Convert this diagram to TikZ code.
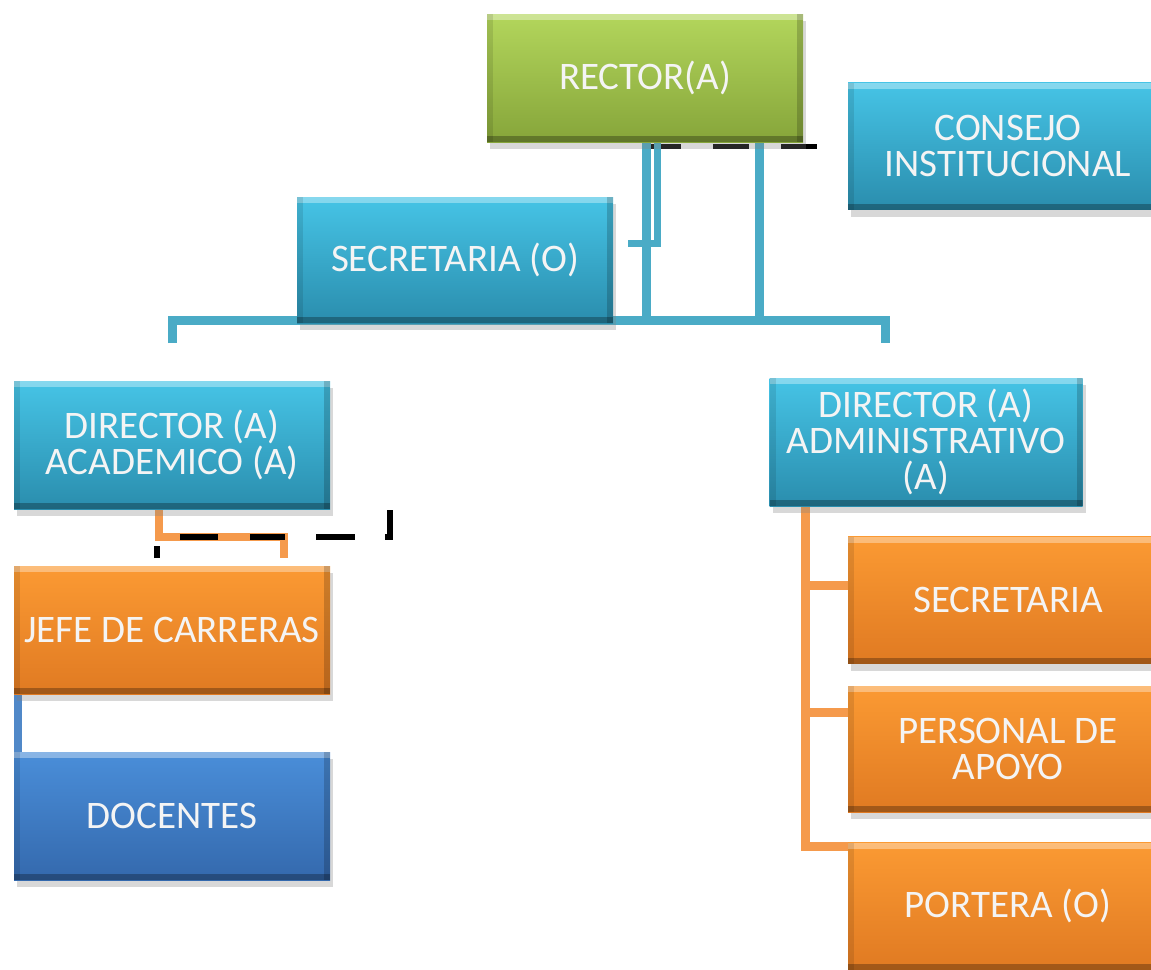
\documentclass[tikz,border=0pt]{standalone}
\usepackage{fontspec}
\setmainfont{Carlito}
\usetikzlibrary{shadows,backgrounds}
\definecolor{cyT}{HTML}{46C4E6}
\definecolor{cyB}{HTML}{2A8DAD}
\definecolor{grT}{HTML}{B3D65C}
\definecolor{grB}{HTML}{86A53A}
\definecolor{orT}{HTML}{FB9A33}
\definecolor{orB}{HTML}{E07A22}
\definecolor{buT}{HTML}{4A8ED9}
\definecolor{buB}{HTML}{3469AD}
\definecolor{lnBlue}{HTML}{4AABC6}
\definecolor{lnOrange}{HTML}{F59A4C}
\definecolor{lnDoc}{HTML}{5088C8}
\definecolor{txt}{HTML}{F4F4F4}
\tikzset{
  orgbox/.style={minimum width=316pt, minimum height=128pt, inner sep=0pt,
    text=txt, font=\fontsize{39}{36}\selectfont, align=center,
    drop shadow={shadow xshift=3pt, shadow yshift=-7pt, opacity=0.3},
    path picture={
      \fill[white,opacity=.35] (path picture bounding box.north west) rectangle ([yshift=-6pt]path picture bounding box.north east);
      \fill[black,opacity=.28] (path picture bounding box.south west) rectangle ([yshift=6pt]path picture bounding box.south east);
      \fill[black,opacity=.18] ([xshift=-6pt]path picture bounding box.north east) rectangle (path picture bounding box.south east);
      \fill[black,opacity=.10] (path picture bounding box.north west) rectangle ([xshift=6pt]path picture bounding box.south west);
    }},
  cyanbox/.style={orgbox, top color=cyT, bottom color=cyB},
  greenbox/.style={orgbox, top color=grT, bottom color=grB},
  orangebox/.style={orgbox, top color=orT, bottom color=orB},
  bluebox/.style={orgbox, top color=buT, bottom color=buB},
  blueline/.style={draw=lnBlue, line width=9pt},
  orangeline/.style={draw=lnOrange, line width=8pt},
  blackdash/.style={draw=black, line width=5pt},
}
\begin{document}
\begin{tikzpicture}[x=1pt,y=-1pt]
\useasboundingbox (0,0) rectangle (1151,969);
\clip (0,0) rectangle (1151,969);
% boxes
\node[greenbox] (rector) at (645,78) {RECTOR(A)};
\node[cyanbox, minimum width=320pt, minimum height=127pt] (consejo) at (1008,146) {CONSEJO\\INSTITUCIONAL};
\node[cyanbox, minimum height=126pt] (secr) at (455,260) {SECRETARIA (O)};
\node[cyanbox] (dacad) at (172,445) {DIRECTOR (A)\\ACADEMICO (A)};
\node[cyanbox, minimum width=313pt] (dadm) at (926,442) {DIRECTOR (A)\\ADMINISTRATIVO\\(A)};
\node[orangebox] (jefe) at (172,630) {JEFE DE CARRERAS};
\node[bluebox] (doc) at (172,816) {DOCENTES};
\node[orangebox, minimum width=320pt, minimum height=127pt] (sec2) at (1008,600) {SECRETARIA};
\node[orangebox, minimum width=320pt, minimum height=126pt] (pers) at (1008,749) {PERSONAL DE\\APOYO};
\node[orangebox, minimum width=320pt, minimum height=127pt] (port) at (1008,906) {PORTERA (O)};
% connectors
\begin{scope}[on background layer]
\fill[white] (0,0) rectangle (1151,969);
\coordinate (busL) at (172,320);
\coordinate (busR) at (885,320);
\draw[blackdash, dash pattern=on 36pt off 32pt, shorten >=30pt] ([yshift=-4pt]rector.south) -- ([yshift=-4pt]rector.south -| consejo.west);
\draw[blueline, line width=7pt] ([xshift=12pt]rector.south) -- ++(0,101) -- ++(-29,0);
\draw[blueline] ([xshift=1pt]rector.south) -- ([xshift=1pt]rector.south |- busL);
\draw[blueline] ([xshift=114pt]rector.south) -- ([xshift=114pt]rector.south |- busL);
\draw[blueline] ([yshift=-23pt]busL) -- (busL) -- (busR) -- ([yshift=-23pt]busR);
% academic
\coordinate (aTop) at ([xshift=-13pt]dacad.south);
\coordinate (aCor) at (aTop |- 0,537);
\coordinate (aEnd) at (284,558);
\draw[orangeline] (aTop) -- (aCor) -- (aCor -| aEnd) -- (aEnd);
\coordinate (kA) at (157,558);
\coordinate (kB) at (390,510);
\draw[draw=black, line width=6pt, dash pattern=on 12pt off 32pt on 38pt off 32pt on 35pt off 31pt on 39pt off 30pt on 32pt off 100pt]
  (kA) -- (kA |- aCor) -- (aCor -| kB) -- (kB);
\draw[draw=lnDoc, line width=8pt] ([xshift=4pt]jefe.south west) -- ([xshift=4pt]doc.north west);
% administrative
\coordinate (dTop) at ([xshift=-121pt]dadm.south);
\draw[orangeline, line width=9pt] (dTop) -- (dTop |- 0,846) -- ++(53,0);
\draw[orangeline, line width=9pt] (dTop |- 0,585) -- (sec2.west |- 0,585);
\draw[orangeline, line width=9pt] (dTop |- 0,712) -- (pers.west |- 0,712);
\end{scope}
\end{tikzpicture}
\end{document}
